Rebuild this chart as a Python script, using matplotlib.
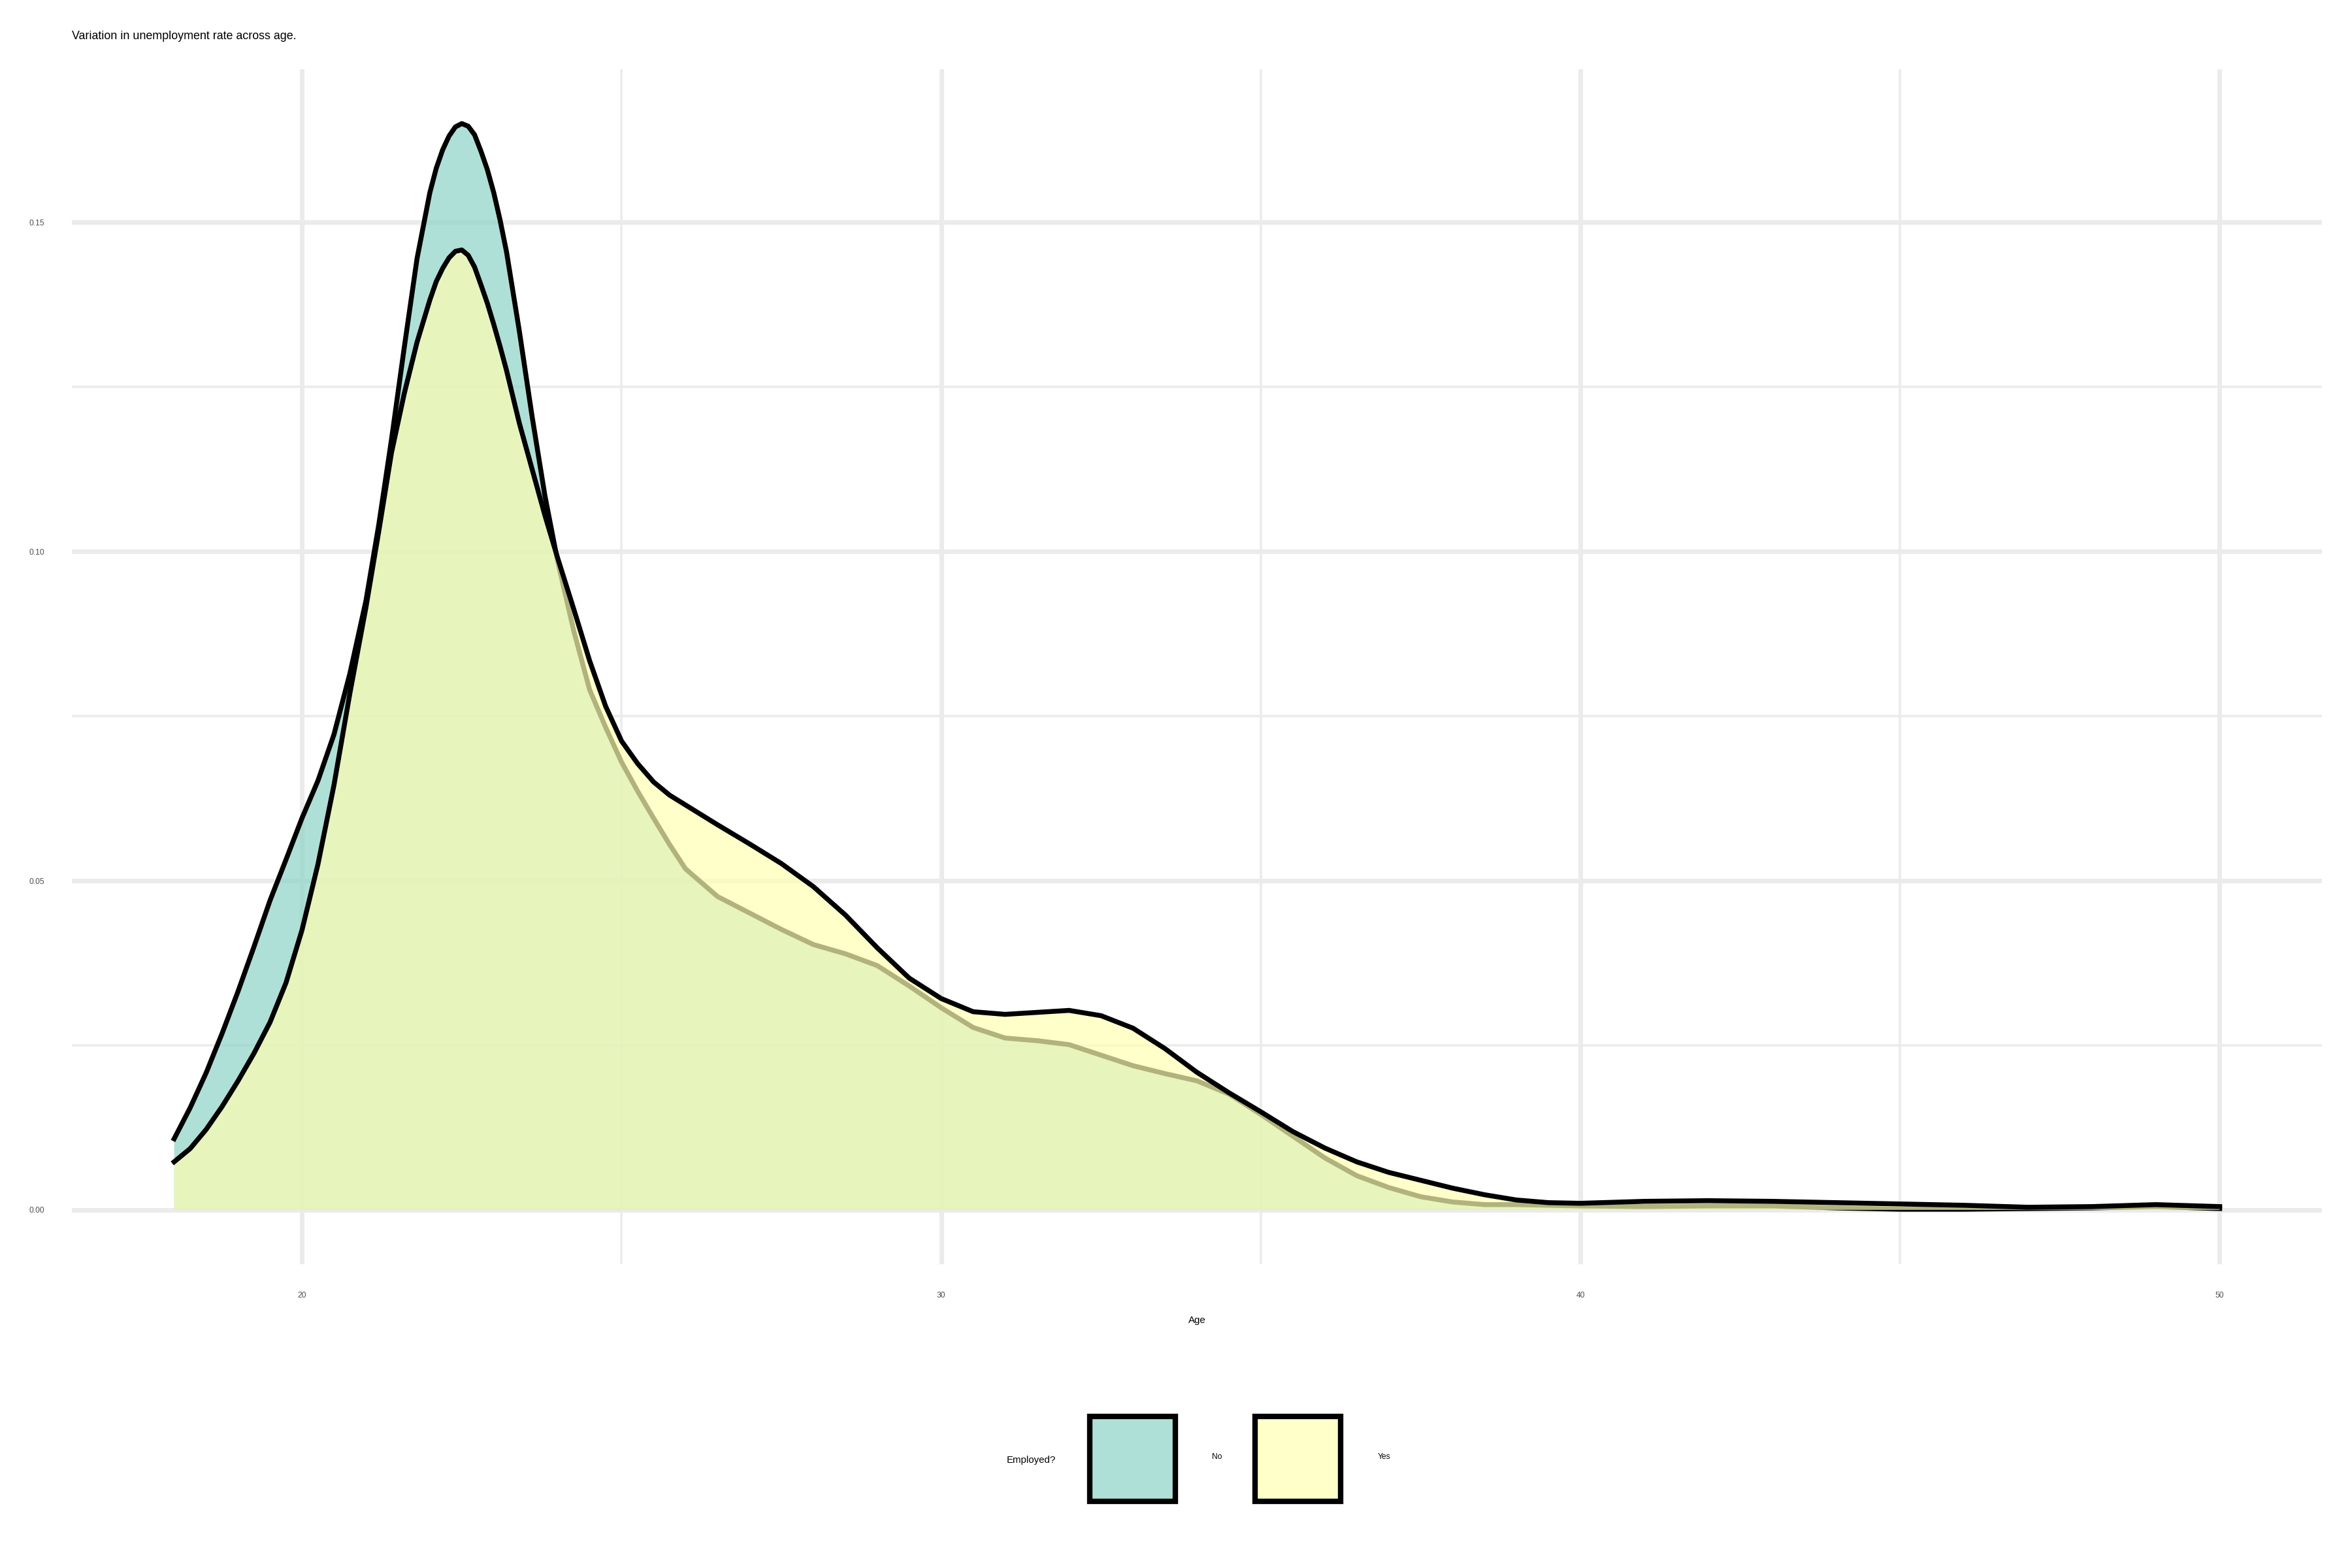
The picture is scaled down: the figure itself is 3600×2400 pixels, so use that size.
import matplotlib
matplotlib.use("Agg")
import matplotlib.pyplot as plt
from matplotlib.patches import Patch
from matplotlib.colors import to_rgba
from matplotlib.ticker import FixedLocator

plt.rcParams["font.family"] = ["Liberation Sans", "DejaVu Sans"]

# density estimates, per group
age = [18.0, 18.25, 18.5, 18.75, 19.0, 19.25, 19.5, 19.75, 20.0, 20.25,
       20.5, 20.75, 21.0, 21.2, 21.4, 21.6, 21.8, 22.0, 22.1, 22.2,
       22.3, 22.4, 22.5, 22.6, 22.7, 22.8, 22.9, 23.0, 23.1, 23.2,
       23.4, 23.6, 23.8, 24.0, 24.25, 24.5, 24.75, 25.0, 25.25, 25.5,
       25.75, 26.0, 26.5, 27.0, 27.5, 28.0, 28.5, 29.0, 29.5, 30.0,
       30.5, 31.0, 31.5, 32.0, 32.5, 33.0, 33.5, 34.0, 34.5, 35.0,
       35.5, 36.0, 36.5, 37.0, 37.5, 38.0, 38.5, 39.0, 39.5, 40.0,
       41.0, 42.0, 43.0, 44.0, 45.0, 46.0, 47.0, 48.0, 49.0, 50.0]

dens_no = [0.0108, 0.0155, 0.0208, 0.0268, 0.0332, 0.0400, 0.0470, 0.0532, 0.0595, 0.0652,
           0.0722, 0.0815, 0.0925, 0.1040, 0.1170, 0.1310, 0.1445, 0.1545, 0.1582, 0.1610,
           0.1631, 0.1645, 0.1650, 0.1646, 0.1633, 0.1608, 0.1580, 0.1545, 0.1503, 0.1455,
           0.1335, 0.1205, 0.1085, 0.0985, 0.0880, 0.0790, 0.0733, 0.0680, 0.0636, 0.0595,
           0.0555, 0.0518, 0.0476, 0.0451, 0.0426, 0.0403, 0.0389, 0.0371, 0.0340, 0.0307,
           0.0277, 0.0261, 0.0257, 0.0251, 0.0235, 0.0219, 0.0207, 0.0196, 0.0176, 0.0145,
           0.0112, 0.0079, 0.0052, 0.0034, 0.0020, 0.0012, 0.0008, 0.0008, 0.0007, 0.0006,
           0.0005, 0.0006, 0.0006, 0.0003, 0.0001, 0.0001, 0.0002, 0.0003, 0.0005, 0.0002]

dens_yes = [0.0073, 0.0093, 0.0122, 0.0157, 0.0196, 0.0238, 0.0285, 0.0345, 0.0425, 0.0525,
            0.0645, 0.0785, 0.0915, 0.1030, 0.1150, 0.1240, 0.1318, 0.1382, 0.1410, 0.1430,
            0.1446, 0.1456, 0.1458, 0.1450, 0.1432, 0.1405, 0.1377, 0.1345, 0.1311, 0.1275,
            0.1195, 0.1125, 0.1055, 0.0990, 0.0913, 0.0834, 0.0765, 0.0712, 0.0678, 0.0650,
            0.0630, 0.0615, 0.0585, 0.0556, 0.0526, 0.0491, 0.0448, 0.0398, 0.0352, 0.0321,
            0.0301, 0.0297, 0.0300, 0.0303, 0.0295, 0.0276, 0.0245, 0.0209, 0.0178, 0.0149,
            0.0119, 0.0094, 0.0073, 0.0057, 0.0045, 0.0033, 0.0023, 0.0015, 0.0011, 0.0010,
            0.0013, 0.0014, 0.0013, 0.0011, 0.0009, 0.0007, 0.0004, 0.0005, 0.0008, 0.0005]

groups = ["No", "Yes"]
fill_colors = ["#8DD3C7", "#FFFFB3"]
x_ticks = [20, 30, 40, 50]
x_minor = [25, 35, 45]
y_ticks = [0.00, 0.05, 0.10, 0.15]
y_minor = [0.025, 0.075, 0.125]
y_tick_labels = ["0.00", "0.05", "0.10", "0.15"]

W, H = 3600, 2400
fig = plt.figure(figsize=(12, 8), dpi=300)
ax = fig.add_axes([110 / W, 1 - 1935 / H, (3554 - 110) / W, (1935 - 106) / H])

for name, dens, col in zip(groups, [dens_no, dens_yes], fill_colors):
    ax.fill_between(age, 0, dens, facecolor=col, alpha=0.7, linewidth=0, zorder=2)
    ax.plot(age, dens, color="black", lw=1.8, solid_joinstyle="round", zorder=2)

ax.set_xlim(16.4, 51.6)
ax.set_ylim(-0.00825, 0.17325)
ax.set_xticks(x_ticks)
ax.set_xticklabels([str(t) for t in x_ticks])
ax.set_yticks(y_ticks)
ax.set_yticklabels(y_tick_labels)
ax.xaxis.set_minor_locator(FixedLocator(x_minor))
ax.yaxis.set_minor_locator(FixedLocator(y_minor))
ax.grid(which="major", color="#EBEBEB", lw=1.7)
ax.grid(which="minor", color="#EBEBEB", lw=0.85)
ax.set_axisbelow(True)
for s in ax.spines.values():
    s.set_visible(False)
ax.tick_params(which="both", length=0, pad=10, labelsize=2.9, labelcolor="#4D4D4D")

ax.set_xlabel("Age", fontsize=3.6, labelpad=6)

fig.text(110 / W, 1 - 60 / H, "Variation in unemployment rate across age.",
         fontsize=4.3, ha="left", va="baseline")

# legend at the bottom, title on the left
fig.text(1541 / W, 1 - 2235 / H, "Employed?", fontsize=3.6, ha="left", va="center")
handles = [Patch(facecolor=to_rgba(c, 0.7), edgecolor="black", linewidth=2.0) for c in fill_colors]
leg = fig.legend(handles, groups, ncol=2, loc="center left",
                 bbox_to_anchor=(1668 / W, 1 - 2233 / H), frameon=False,
                 fontsize=2.9, handlelength=10.8, handleheight=16.3,
                 handletextpad=4.7, columnspacing=4.2, borderpad=0, borderaxespad=0)

fig.savefig("out.png", dpi=300)
